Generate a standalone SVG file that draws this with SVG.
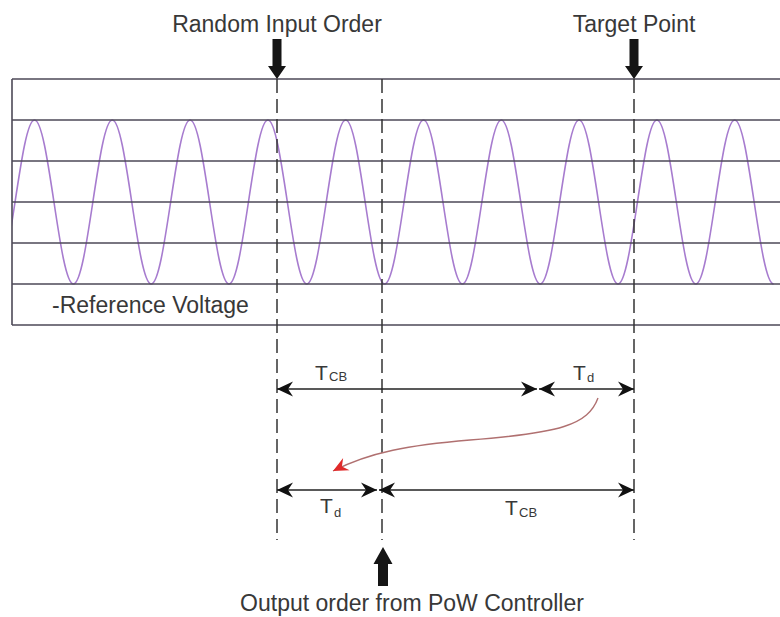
<svg xmlns="http://www.w3.org/2000/svg" xmlns:xlink="http://www.w3.org/1999/xlink" width="780" height="617" viewBox="0 0 780 617">
<style>
  .txt { font-family: "Liberation Sans", Arial, sans-serif; fill: #383838; }
  .big { font-size: 23px; }
  .tl { font-size: 21px; }
  .sub { font-size: 13px; }
  .grid { stroke: #4e4a58; stroke-width: 1.6; fill: none; }
  .dash { stroke: #333; stroke-width: 1.5; stroke-dasharray: 14 6; fill: none; }
  .dim { stroke: #222; stroke-width: 1.5; fill: none; marker-start: url(#ah); marker-end: url(#ah); }
  .wave { stroke: #a77ccf; stroke-width: 1.6; fill: none; }
  .bigarrow { fill: #151515; }
</style>
<defs>
  <marker id="ah" viewBox="-18 -9 19 18" markerWidth="19" markerHeight="18" refX="0" refY="0" markerUnits="userSpaceOnUse" orient="auto-start-reverse">
    <path d="M0,0 L-16,-7.5 L-11,0 L-16,7.5 Z" fill="#111"/>
  </marker>
  <marker id="red" viewBox="-16 -8 17 16" markerWidth="17" markerHeight="16" refX="0" refY="0" markerUnits="userSpaceOnUse" orient="auto">
    <path d="M0,0 L-15,-7 L-10,0 L-15,7 Z" fill="#e02a2a"/>
  </marker>
  <clipPath id="box"><rect x="12" y="79" width="780" height="246"/></clipPath>
</defs>
<rect width="780" height="617" fill="#fff"/>

<g id="scope">
  <g clip-path="url(#box)">
    <path class="wave" d="M-4.4,284 c7.04,0 13.1,-40 19.45,-82 c6.35,-42 12.41,-82 19.45,-82
      c7.04,0 13.1,40 19.45,82 c6.35,42 12.41,82 19.45,82 c7.04,0 13.1,-40 19.45,-82 c6.35,-42 12.41,-82 19.45,-82
      c7.04,0 13.1,40 19.45,82 c6.35,42 12.41,82 19.45,82 c7.04,0 13.1,-40 19.45,-82 c6.35,-42 12.41,-82 19.45,-82
      c7.04,0 13.1,40 19.45,82 c6.35,42 12.41,82 19.45,82 c7.04,0 13.1,-40 19.45,-82 c6.35,-42 12.41,-82 19.45,-82
      c7.04,0 13.1,40 19.45,82 c6.35,42 12.41,82 19.45,82 c7.04,0 13.1,-40 19.45,-82 c6.35,-42 12.41,-82 19.45,-82
      c7.04,0 13.1,40 19.45,82 c6.35,42 12.41,82 19.45,82 c7.04,0 13.1,-40 19.45,-82 c6.35,-42 12.41,-82 19.45,-82
      c7.04,0 13.1,40 19.45,82 c6.35,42 12.41,82 19.45,82 c7.04,0 13.1,-40 19.45,-82 c6.35,-42 12.41,-82 19.45,-82
      c7.04,0 13.1,40 19.45,82 c6.35,42 12.41,82 19.45,82 c7.04,0 13.1,-40 19.45,-82 c6.35,-42 12.41,-82 19.45,-82
      c7.04,0 13.1,40 19.45,82 c6.35,42 12.41,82 19.45,82 c7.04,0 13.1,-40 19.45,-82 c6.35,-42 12.41,-82 19.45,-82
      c7.04,0 13.1,40 19.45,82 c6.35,42 12.41,82 19.45,82 c7.04,0 13.1,-40 19.45,-82 c6.35,-42 12.41,-82 19.45,-82
      c7.04,0 13.1,40 19.45,82 c6.35,42 12.41,82 19.45,82"/>
  </g>
  <path class="grid" d="M12,79 H780 M12,120 H780 M12,161 H780 M12,202 H780 M12,243 H780 M12,284 H780 M12,325 H780 M12,79 V325"/>
  <text class="txt big" x="52" y="313">-Reference Voltage</text>
</g>

<g id="markers">
  <path class="dash" d="M277,79 V540 M382,79 V540 M634,79 V540"/>
</g>

<g id="random-input-order">
  <text class="txt big" x="277" y="32" text-anchor="middle">Random Input Order</text>
  <polygon class="bigarrow" points="272.5,39 281.5,39 281.5,66 286,66 277,79 268,66 272.5,66"/>
</g>

<g id="target-point">
  <text class="txt big" x="634" y="32" text-anchor="middle">Target Point</text>
  <polygon class="bigarrow" points="629.5,39 638.5,39 638.5,66 643,66 634,79 625,66 629.5,66"/>
</g>

<g id="output-order">
  <polygon class="bigarrow" points="383,547 392.5,564 388,564 388,586 378,586 378,564 373.5,564"/>
  <text class="txt big" x="412" y="611" text-anchor="middle">Output order from PoW Controller</text>
</g>

<g id="connectors">
  <line class="dim" x1="277" y1="389" x2="537" y2="389"/>
  <line class="dim" x1="539" y1="389" x2="634" y2="389"/>
  <line class="dim" x1="277" y1="490" x2="377" y2="490"/>
  <line class="dim" x1="379" y1="490" x2="634" y2="490"/>
  <path d="M598,398 C588,425 560,433 470,440 C410,445 370,452 333,471" stroke="#b07070" stroke-width="1.4" fill="none" marker-end="url(#red)"/>
</g>

<g id="labels">
  <text class="txt tl" x="315" y="380">T<tspan class="sub" x="329" y="381">CB</tspan></text>
  <text class="txt tl" x="573" y="380">T<tspan class="sub" x="587" y="382">d</tspan></text>
  <text class="txt tl" x="320" y="513">T<tspan class="sub" x="334" y="517">d</tspan></text>
  <text class="txt tl" x="505" y="515">T<tspan class="sub" x="519" y="517">CB</tspan></text>
</g>
</svg>
